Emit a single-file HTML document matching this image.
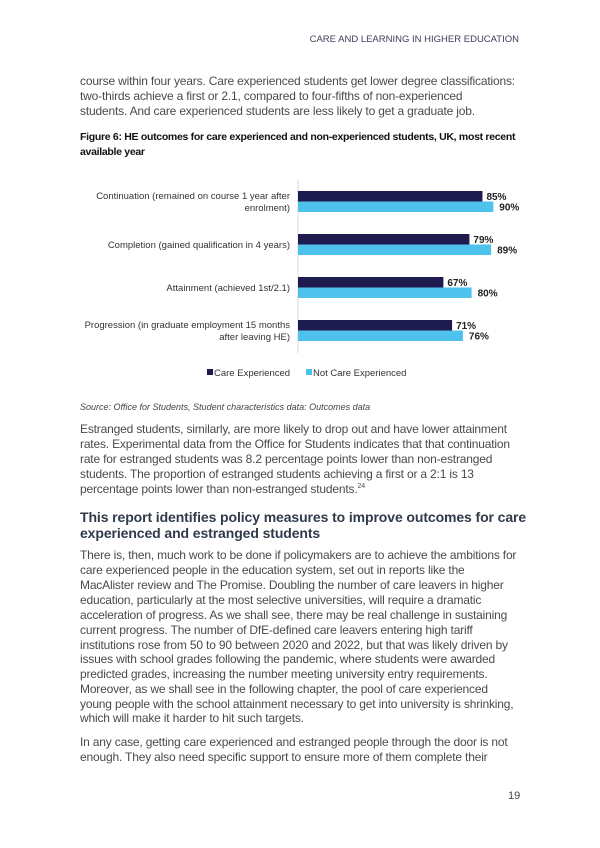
<!DOCTYPE html>
<html><head><meta charset="utf-8"><style>
body{margin:0;background:#fff;}
#page{position:relative;width:600px;height:848px;overflow:hidden;font-family:"Liberation Sans",sans-serif;color:#4a4a4a;}
.ln{position:absolute;left:80px;white-space:nowrap;font-size:12px;line-height:15px;letter-spacing:-0.18px;}
.hd{position:absolute;left:80px;white-space:nowrap;font-size:14px;font-weight:bold;color:#2f3b4a;line-height:16px;letter-spacing:-0.1px;}
.ft{position:absolute;left:80px;white-space:nowrap;font-size:10.5px;font-weight:bold;color:#111;letter-spacing:-0.3px;}
sup{position:relative;top:-5px;vertical-align:baseline;font-size:7px;line-height:0;}
svg text{font-family:"Liberation Sans",sans-serif;}
</style></head><body>
<div id="page">
<div style="position:absolute;right:81px;top:34px;font-size:9.5px;color:#3b3f5a;">CARE AND LEARNING IN HIGHER EDUCATION</div>

<div>
<div class="ln" style="top:74px">course within four years. Care experienced students get lower degree classifications:</div>
<div class="ln" style="top:89px">two-thirds achieve a first or 2.1, compared to four-fifths of non-experienced</div>
<div class="ln" style="top:104px">students. And care experienced students are less likely to get a graduate job.</div>
</div>

<div>
<div class="ft" style="top:131px">Figure 6: HE outcomes for care experienced and non-experienced students, UK, most recent</div>
<div class="ft" style="top:146px">available year</div>
</div>

<svg id="chart" style="position:absolute;left:0;top:0" width="600" height="400"></svg>

<div style="position:absolute;left:80px;top:402px;font-size:9px;font-style:italic;color:#444;">Source: Office for Students, Student characteristics data: Outcomes data</div>

<div>
<div class="ln" style="top:422px">Estranged students, similarly, are more likely to drop out and have lower attainment</div>
<div class="ln" style="top:437px">rates. Experimental data from the Office for Students indicates that that continuation</div>
<div class="ln" style="top:452px">rate for estranged students was 8.2 percentage points lower than non-estranged</div>
<div class="ln" style="top:467px">students. The proportion of estranged students achieving a first or a 2:1 is 13</div>
<div class="ln" style="top:482px">percentage points lower than non-estranged students.<sup>24</sup></div>
</div>

<div>
<div class="hd" style="top:509px">This report identifies policy measures to improve outcomes for care</div>
<div class="hd" style="top:525px">experienced and estranged students</div>
</div>

<div>
<div class="ln" style="top:548px">There is, then, much work to be done if policymakers are to achieve the ambitions for</div>
<div class="ln" style="top:563px">care experienced people in the education system, set out in reports like the</div>
<div class="ln" style="top:578px">MacAlister review and The Promise. Doubling the number of care leavers in higher</div>
<div class="ln" style="top:593px">education, particularly at the most selective universities, will require a dramatic</div>
<div class="ln" style="top:608px">acceleration of progress. As we shall see, there may be real challenge in sustaining</div>
<div class="ln" style="top:623px">current progress. The number of DfE-defined care leavers entering high tariff</div>
<div class="ln" style="top:638px">institutions rose from 50 to 90 between 2020 and 2022, but that was likely driven by</div>
<div class="ln" style="top:652px">issues with school grades following the pandemic, where students were awarded</div>
<div class="ln" style="top:667px">predicted grades, increasing the number meeting university entry requirements.</div>
<div class="ln" style="top:682px">Moreover, as we shall see in the following chapter, the pool of care experienced</div>
<div class="ln" style="top:697px">young people with the school attainment necessary to get into university is shrinking,</div>
<div class="ln" style="top:711px">which will make it harder to hit such targets.</div>
</div>

<div>
<div class="ln" style="top:735px">In any case, getting care experienced and estranged people through the door is not</div>
<div class="ln" style="top:750px">enough. They also need specific support to ensure more of them complete their</div>
</div>

<div style="position:absolute;left:508px;top:790px;font-size:11px;color:#444;">19</div>
</div>

<script>
const categories = [
  ["Continuation (remained on course 1 year after", "enrolment)"],
  ["Completion (gained qualification in 4 years)"],
  ["Attainment (achieved 1st/2.1)"],
  ["Progression (in graduate employment 15 months", "after leaving HE)"]
];
const careExperienced = [85, 79, 67, 71];
const notCareExperienced = [90, 89, 80, 76];
const seriesNames = ["Care Experienced", "Not Care Experienced"];

const NS = "http://www.w3.org/2000/svg";
const svg = document.getElementById("chart");
const x0 = 298, xScale = 2.17;
const groupTop = 191, groupStep = 43, barH = 10.5;
const colors = ["#1e1b4f", "#4ec1ec"];
function xPos(v){ return x0 + v * xScale; }
function mk(tag, attrs){ const e = document.createElementNS(NS, tag); for (const k in attrs) e.setAttribute(k, attrs[k]); svg.appendChild(e); return e; }

const axis = mk("line", {x1:x0, x2:x0, y1:180, y2:353, stroke:"#d8d8d8", "stroke-width":1});



const series = [careExperienced, notCareExperienced];
categories.forEach((lines, i) => {
  const top = groupTop + i * groupStep;
  const cy = top + barH;
  const n = lines.length;
  lines.forEach((t, j) => {
    const tx = mk("text", {x:290, y: cy + 3.5 + (j - (n - 1) / 2) * 12, "text-anchor":"end", "font-size":"9.5", fill:"#333"});
    tx.textContent = t;
    
    
  });
  series.forEach((vals, s) => {
    const y = top + s * barH;
    const r = mk("rect", {x:x0, y:y, width: xPos(vals[i]) - x0, height: barH, fill: colors[s]});
    
    
    const lb = mk("text", {x: xPos(vals[i]) + (s === 0 ? 4 : 6), y: y + barH / 2 + 3.5, "font-size":"10", "font-weight":"bold", fill:"#222"});
    lb.textContent = vals[i] + "%";
    
    
  });
});

const legendX = [207, 306];
seriesNames.forEach((name, s) => {
  const sq = mk("rect", {x: legendX[s], y: 369, width: 6, height: 6, fill: colors[s]});
  
  
  const t = mk("text", {x: legendX[s] + 7, y: 376, "font-size":"9.5", fill:"#333"});
  t.textContent = name;
  
  
});
</script>
</body></html>
